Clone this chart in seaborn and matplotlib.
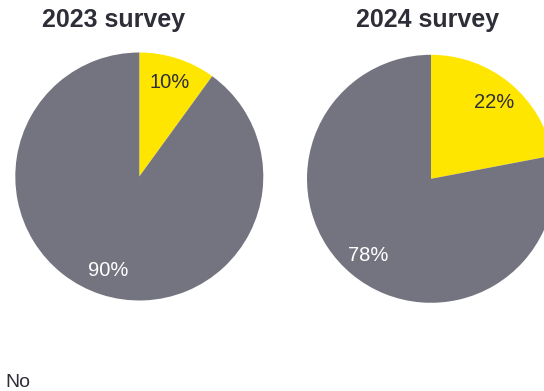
import matplotlib
matplotlib.use("Agg")
import matplotlib.pyplot as plt
import seaborn as sns

sns.set_theme(style="white")
plt.rcParams["font.family"] = ["Liberation Sans", "DejaVu Sans"]

# Survey answers (share of respondents, %)
surveys = ["2023 survey", "2024 survey"]
answers = ["Yes", "No"]
yes_share = [10, 22]
no_share = [90, 78]
legend_label = "No"

slice_colors = ["#FFE600", "#747480"]
label_colors = ["#2E2E38", "#FFFFFF"]
dark = "#2E2E38"

W, H = 544, 391
fig = plt.figure(figsize=(W / 100, H / 100), dpi=100)

# pie centres and radius in pixels (from top-left)
centres = [(139.3, 176.5), (431.0, 178.8)]
radius = 124.0
title_x = [113.7, 428.0]

for i, name in enumerate(surveys):
    cx, cy = centres[i]
    ax = fig.add_axes([(cx - radius) / W, (H - cy - radius) / H,
                       2 * radius / W, 2 * radius / H])
    values = [yes_share[i], no_share[i]]
    wedges, texts, autotexts = ax.pie(
        values, colors=slice_colors, startangle=90, counterclock=False,
        autopct=lambda p: f"{p:.0f}%", pctdistance=0.8, radius=1.0,
        wedgeprops=dict(linewidth=0), textprops=dict(fontsize=14.5))
    for t, c in zip(autotexts, label_colors):
        t.set_color(c)
    ax.set_xlim(-1, 1)
    ax.set_ylim(-1, 1)
    ax.set_aspect("auto")
    ax.axis("off")
    fig.text(title_x[i] / W, 1 - 27 / H, name, ha="center", va="baseline",
             fontsize=18, fontweight="bold", color=dark)

fig.text(5 / W, 1 - 387 / H, legend_label, ha="left", va="baseline",
         fontsize=14, color=dark)

fig.savefig("out.png", dpi=100)
